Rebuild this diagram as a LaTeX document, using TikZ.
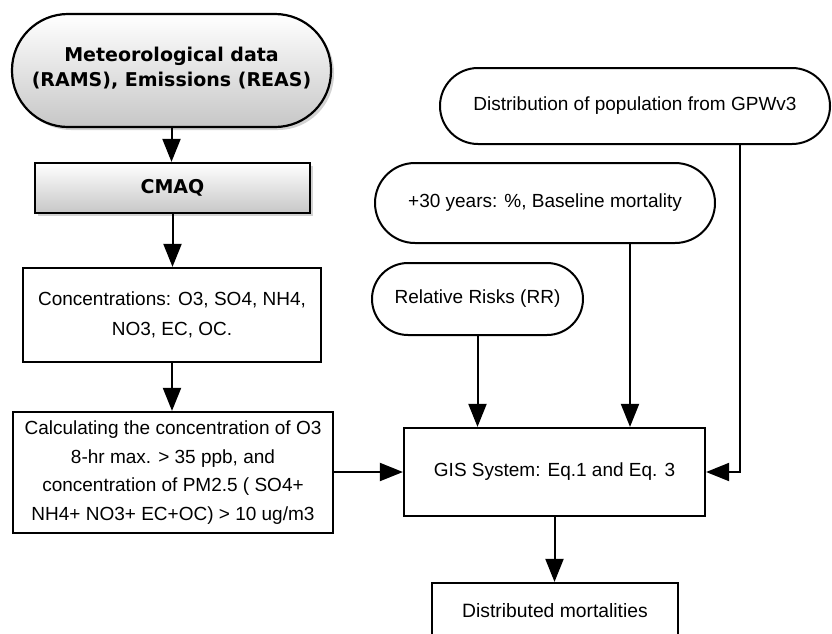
\documentclass[tikz,border=0pt]{standalone}
\usepackage{fontspec}
\setmainfont{Liberation Sans}
\newfontfamily\verdfont{DejaVu Sans}
\usetikzlibrary{arrows.meta,shadows,calc}
\begin{document}
\begin{tikzpicture}[x=1pt,y=-1pt,
  boxline/.style={draw=black, line width=2.2pt},
  plainbox/.style={boxline, rectangle, fill=white, inner sep=0pt, align=center},
  stadium/.style={draw=black, line width=2pt, rectangle, fill=white, inner sep=0pt, align=center},
  graybox/.style={boxline, inner sep=0pt, align=center, top color=white, bottom color=black!22,
     drop shadow={opacity=0.35, shadow xshift=3pt, shadow yshift=-3pt}},
  arialtext/.style={font=\fontsize{19}{30}\selectfont},
  conn/.style={line width=2pt, -{Triangle[width=18pt,length=23pt]}},
]
\clip (0,0) rectangle (832,633);
\fill[white] (0,0) rectangle (832,633);

% left column
\node[graybox, rounded corners=56pt, minimum width=319pt, minimum height=113pt,
      text depth=8pt,
      font=\verdfont\bfseries\fontsize{19}{25}\selectfont] (met) at (171.5,70.5)
      {Meteorological data\\(RAMS), Emissions (REAS)};
\node[graybox, minimum width=275pt, minimum height=50pt,
      font=\verdfont\bfseries\fontsize{19}{22}\selectfont] (cmaq) at (172.5,188) {CMAQ};
\node[plainbox, arialtext, minimum width=298pt, minimum height=94pt] (conc) at (172,315)
      {Concentrations: O3, SO4, NH4,\\NO3, EC, OC.};
\node[plainbox, minimum width=320pt, minimum height=121pt,
      font=\fontsize{19}{28.5}\selectfont] (calc) at (173,472.5)
      {Calculating the concentration of O3\\8-hr max. > 35 ppb, and\\concentration of PM2.5 ( SO4+\\NH4+ NO3+ EC+OC) > 10 ug/m3};

% right column
\node[stadium, rounded corners=38pt, minimum width=390pt, minimum height=76pt, arialtext] (pop) at (635,106)
      {Distribution of population from GPWv3};
\node[stadium, rounded corners=40pt, minimum width=340pt, minimum height=80pt, arialtext] (p30) at (545,203)
      {+30 years: \%, Baseline mortality};
\node[stadium, rounded corners=36pt, minimum width=211pt, minimum height=72pt, arialtext] (rr) at (477.5,299)
      {Relative Risks (RR)};
\node[plainbox, minimum width=301pt, minimum height=88pt,
      font=\fontsize{19}{22}\selectfont] (gis) at (554.5,472)
      {GIS System: Eq.1 and Eq. 3};
\node[plainbox, minimum width=246pt, minimum height=66pt, text depth=12pt,
      font=\fontsize{19.3}{22}\selectfont] (dist) at (555,616)
      {Distributed mortalities};

\coordinate (x30) at (630,0);
\coordinate (xpop) at (740,0);

% connectors
\draw[conn] (met.south) -- (met.south |- cmaq.north);
\draw[conn] (cmaq.south) -- (cmaq.south |- conc.north);
\draw[conn] (conc.south) -- (conc.south |- calc.north);
\draw[conn] (calc.east |- gis.west) -- (gis.west);
\draw[conn] (rr.south) -- (rr.south |- gis.north);
\draw[conn] (x30 |- p30.south) -- (x30 |- gis.north);
\draw[conn] (xpop |- pop.south) |- (gis.east);
\draw[conn] (gis.south) -- (gis.south |- dist.north);
\end{tikzpicture}
\end{document}
